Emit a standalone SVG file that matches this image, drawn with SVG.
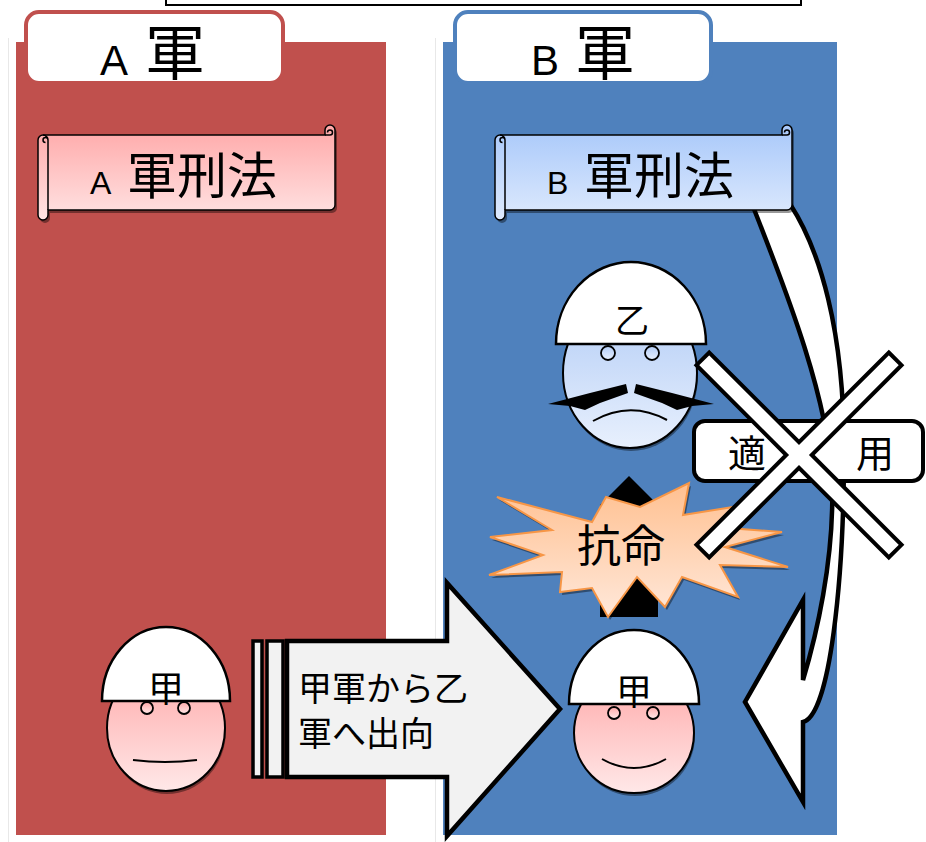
<svg xmlns="http://www.w3.org/2000/svg" width="926" height="842" viewBox="0 0 926 842">
<defs>
  <linearGradient id="gScrollA" x1="0" y1="0" x2="0" y2="1"><stop offset="0" stop-color="#FFA8A8"/><stop offset="1" stop-color="#FFE4E4"/></linearGradient>
  <linearGradient id="gScrollB" x1="0" y1="0" x2="0" y2="1"><stop offset="0" stop-color="#A8C8FA"/><stop offset="1" stop-color="#DEEAFD"/></linearGradient>
  <linearGradient id="gFaceRed" x1="0" y1="0" x2="0" y2="1"><stop offset="0" stop-color="#FFA9A9"/><stop offset="1" stop-color="#FFE8E8"/></linearGradient>
  <linearGradient id="gFaceBlue" x1="0" y1="0" x2="0" y2="1"><stop offset="0" stop-color="#B2CCF6"/><stop offset="1" stop-color="#E8F0FD"/></linearGradient>
  <linearGradient id="gStar" x1="0" y1="0" x2="0" y2="1"><stop offset="0" stop-color="#FFC090"/><stop offset="1" stop-color="#FFE8DA"/></linearGradient>
</defs>
<style>
  text { font-family: "Liberation Sans", "Noto Sans CJK JP", sans-serif; fill: #000; }
  .cjk { font-family: "Noto Sans CJK JP", sans-serif; }
  .helmet { fill: #fff; stroke: #000; stroke-width: 2.5; }
  .faceline { fill: none; stroke: #000; stroke-width: 2; }
  .shadow { fill: #000; opacity: 0.4; }
  .thick { stroke: #000; stroke-width: 4.5; stroke-linejoin: miter; }
  .scrollline { fill: none; stroke: #000; stroke-width: 1.5; }
</style>

<rect width="926" height="842" fill="#fff"/>
<path d="M8.5,38 V842 M435.5,38 V842" stroke="#E8E8E8" stroke-width="1"/>
<rect x="166" y="-20" width="635" height="25" fill="none" stroke="#000" stroke-width="2"/>

<g id="army-a">
  <rect x="16" y="42" width="370" height="793" fill="#C0504D"/>
  <rect x="26" y="12" width="257" height="71" rx="13" fill="#fff" stroke="#C0504D" stroke-width="4"/>
  <text y="75"><tspan x="100" font-size="42">A</tspan><tspan x="145" font-size="60" class="cjk">軍</tspan></text>
</g>
<g id="army-b">
  <rect x="443" y="42" width="394" height="793" fill="#4F81BD"/>
  <rect x="455" y="12" width="256" height="71" rx="13" fill="#fff" stroke="#4F81BD" stroke-width="4"/>
  <text y="75"><tspan x="531" font-size="42">B</tspan><tspan x="575" font-size="60" class="cjk">軍</tspan></text>
</g>

<g id="connectors">
  <g id="transfer-arrow">
    <rect x="253" y="641" width="9" height="136" fill="#F2F2F2" stroke="#000" stroke-width="3.5"/>
    <rect x="267" y="641" width="16" height="136" fill="#F2F2F2" stroke="#000" stroke-width="3.5"/>
    <path class="thick" fill="#F2F2F2" d="M287,641 H447 V583 L560,709 L447,836 V777 H287 Z"/>
    <text class="cjk" font-size="34" x="298" y="701">甲軍から乙</text>
    <text class="cjk" font-size="34" x="298" y="746">軍へ出向</text>
  </g>
  <polygon id="order-arrow" points="629,476 658,505 658,617 600,617 600,505" fill="#000"/>
  <path id="apply-arrow" class="thick" fill="#fff" d="M752,204 C790,300 828,400 832,480 C835,560 815,640 803,680 V600 L745,702 L803,802 V722 C830,716 844,580 844,450 C844,330 820,250 790,204 Z"/>
</g>

<g id="law-a">
  <path class="shadow" transform="translate(2,3)" d="M43,135 H325 V130 A5,5 0 0 1 335,130 V205 A5,5 0 0 1 330,210 H48 V215 A5,5 0 0 1 38,215 V140 A5,5 0 0 1 43,135 Z"/>
  <path fill="url(#gScrollA)" stroke="#000" stroke-width="1.5" d="M43,135 H325 V130 A5,5 0 0 1 335,130 V205 A5,5 0 0 1 330,210 H48 V215 A5,5 0 0 1 38,215 V140 A5,5 0 0 1 43,135 Z"/>
  <path class="scrollline" d="M48,210 V140 A5,5 0 0 0 43,135 M48,140 A2.5,2.5 0 0 0 43,140 A2.5,2.5 0 0 0 45.5,142.5 M325,135 H330 A2.5,2.5 0 0 0 330,130 A2.5,2.5 0 0 0 327.5,132.5"/>
  <text y="194"><tspan x="90" font-size="32">A</tspan><tspan x="127" font-size="50" class="cjk">軍刑法</tspan></text>
</g>
<g id="law-b">
  <path class="shadow" transform="translate(2,3)" d="M500,135 H782 V130 A5,5 0 0 1 792,130 V205 A5,5 0 0 1 787,210 H505 V215 A5,5 0 0 1 495,215 V140 A5,5 0 0 1 500,135 Z"/>
  <path fill="url(#gScrollB)" stroke="#000" stroke-width="1.5" d="M500,135 H782 V130 A5,5 0 0 1 792,130 V205 A5,5 0 0 1 787,210 H505 V215 A5,5 0 0 1 495,215 V140 A5,5 0 0 1 500,135 Z"/>
  <path class="scrollline" d="M505,210 V140 A5,5 0 0 0 500,135 M505,140 A2.5,2.5 0 0 0 500,140 A2.5,2.5 0 0 0 502.5,142.5 M782,135 H787 A2.5,2.5 0 0 0 787,130 A2.5,2.5 0 0 0 784.5,132.5"/>
  <text y="194"><tspan x="547" font-size="32">B</tspan><tspan x="584" font-size="50" class="cjk">軍刑法</tspan></text>
</g>

<g id="kou-a">
  <ellipse class="shadow" cx="167" cy="731" rx="59" ry="63"/>
  <ellipse cx="166" cy="728" rx="59" ry="63" fill="url(#gFaceRed)" stroke="#000" stroke-width="2"/>
  <path class="helmet" d="M102,701 A64,74 0 0 1 230,701 Z"/>
  <circle cx="147" cy="708" r="6" fill="url(#gFaceRed)" stroke="#000" stroke-width="1.8"/>
  <circle cx="184" cy="708" r="6" fill="url(#gFaceRed)" stroke="#000" stroke-width="1.8"/>
  <path class="faceline" d="M133,760 Q165,764 197,760"/>
  <text class="cjk" font-size="36" x="166" y="702" text-anchor="middle">甲</text>
</g>

<g id="otsu">
  <ellipse class="shadow" cx="631" cy="376" rx="67" ry="75"/>
  <ellipse cx="630" cy="373" rx="67" ry="75" fill="url(#gFaceBlue)" stroke="#000" stroke-width="2"/>
  <path class="helmet" d="M556,344 A75,82 0 0 1 706,344 Z"/>
  <circle cx="608" cy="353" r="7" fill="url(#gFaceBlue)" stroke="#000" stroke-width="1.8"/>
  <circle cx="652" cy="353" r="7" fill="url(#gFaceBlue)" stroke="#000" stroke-width="1.8"/>
  <polygon points="548,404 590,393 626,384 628,393 600,403 585,410 570,406" fill="#000"/>
  <polygon points="714,404 672,393 636,384 634,393 662,403 677,410 692,406" fill="#000"/>
  <path class="faceline" d="M593,421 Q630,400 667,420"/>
  <text class="cjk" font-size="34" x="632" y="333" text-anchor="middle">乙</text>
</g>

<g id="kou-b">
  <ellipse class="shadow" cx="635" cy="736" rx="60" ry="60"/>
  <ellipse cx="634" cy="733" rx="60" ry="60" fill="url(#gFaceRed)" stroke="#000" stroke-width="2"/>
  <path class="helmet" d="M569,704 A65,74 0 0 1 699,704 Z"/>
  <circle cx="614" cy="713" r="6" fill="url(#gFaceRed)" stroke="#000" stroke-width="1.8"/>
  <circle cx="653" cy="713" r="6" fill="url(#gFaceRed)" stroke="#000" stroke-width="1.8"/>
  <path class="faceline" d="M602,759 Q634,777 666,759"/>
  <text class="cjk" font-size="36" x="634" y="705" text-anchor="middle">甲</text>
</g>

<g id="disobey">
  <polygon class="shadow" transform="translate(2,3)" points="497,497 552,530 490,537 543,555 489,575 562,572 560,592 592,588 608,617 637,577 665,607 682,577 738,597 720,565 788,567 725,547 782,532 728,528 733,507 683,515 689,483 640,507 606,497 592,522"/>
  <polygon fill="url(#gStar)" stroke="#F79646" stroke-width="2" points="497,497 552,530 490,537 543,555 489,575 562,572 560,592 592,588 608,617 637,577 665,607 682,577 738,597 720,565 788,567 725,547 782,532 728,528 733,507 683,515 689,483 640,507 606,497 592,522"/>
  <text class="cjk" font-size="44" x="621" y="562" text-anchor="middle">抗命</text>
</g>

<g id="apply-box">
  <rect x="694" y="421" width="229" height="60" rx="11" fill="#fff" stroke="#000" stroke-width="4"/>
  <text class="cjk" font-size="38" x="747" y="467" text-anchor="middle">適</text>
  <text class="cjk" font-size="38" x="875" y="467" text-anchor="middle">用</text>
</g>

<g id="cross">
  <polygon transform="translate(799,455) rotate(45)" points="-9,-136 9,-136 9,-9 136,-9 136,9 9,9 9,136 -9,136 -9,9 -136,9 -136,-9 -9,-9" fill="#fff" stroke="#000" stroke-width="4"/>
</g>
</svg>
